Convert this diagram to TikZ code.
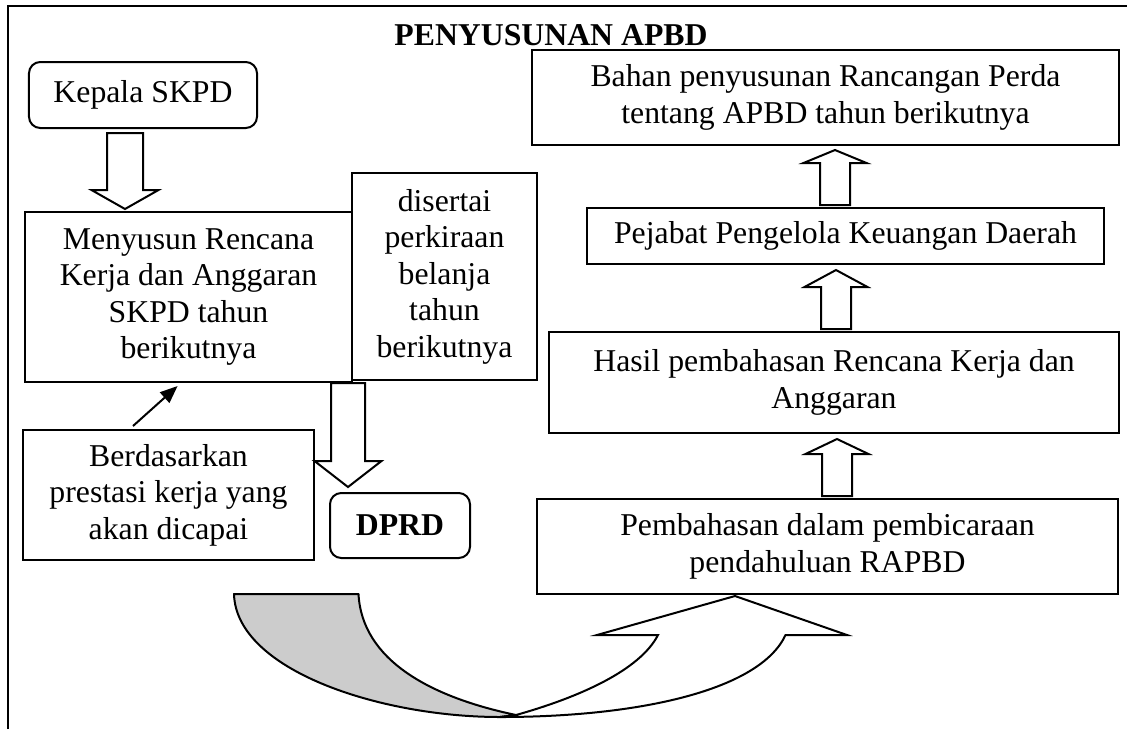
\documentclass[tikz,border=0pt]{standalone}
\usepackage{fontspec}
\setmainfont{Liberation Serif}
\usetikzlibrary{calc,arrows.meta}
\definecolor{tailgray}{HTML}{CCCCCC}
\newcommand\downarr[5]{%
  \draw[barrow] let \p1=(#1), \p2=(#2) in
   (\x1-#3,\y1) -- (\x1-#3,\y2+#5) -- (\x1-#4,\y2+#5) -- (\x1,\y2) -- (\x1+#4,\y2+#5) -- (\x1+#3,\y2+#5) -- (\x1+#3,\y1) -- cycle;}
\newcommand\uparr[5]{%
  \draw[barrow] let \p1=(#1), \p2=(#2) in
   (\x1-#3,\y1) -- (\x1-#3,\y2-#5) -- (\x1-#4,\y2-#5) -- (\x1,\y2) -- (\x1+#4,\y2-#5) -- (\x1+#3,\y2-#5) -- (\x1+#3,\y1) -- cycle;}
\begin{document}
\begin{tikzpicture}[x=0.4pt,y=-0.4pt,
  txt/.style={font=\fontsize{12.7}{14.6}\selectfont},
  rtxt/.style={font=\fontsize{12.7}{15}\selectfont},
  box/.style={txt,draw,line width=0.8pt,inner sep=0pt,align=center},
  rcol/.style={box,rtxt},
  rbox/.style={box,rounded corners=4.5pt},
  barrow/.style={draw,line width=0.8pt,fill=white,line join=miter},
]
\useasboundingbox (0,0) rectangle (1127,729);
\draw[line width=0.8pt] (8,729) -- (8,6) -- (1127,6);

\node[font=\bfseries\fontsize{12.7}{14.6}\selectfont] (title) at (551,35) {PENYUSUNAN APBD};

\node[rbox,minimum width=91.2pt,minimum height=26.4pt] (kepala) at (143,95) {Kepala SKPD};
\node[box,minimum width=130.8pt,minimum height=68pt] (menyusun) at (188.5,297) {Menyusun Rencana\\Kerja dan Anggaran\\SKPD tahun\\berikutnya};
\node[box,minimum width=74pt,minimum height=82.8pt] (disertai) at (444.5,276.5) {disertai\\perkiraan\\belanja\\tahun\\berikutnya};
\node[box,minimum width=116.4pt,minimum height=52pt] (berdasar) at (168.5,495) {Berdasarkan\\prestasi kerja yang\\akan dicapai};
\node[rbox,minimum width=56pt,minimum height=26pt,font=\bfseries\fontsize{12.7}{14.6}\selectfont] (dprd) at (400,525.5) {DPRD};

\node[rcol,minimum width=234.8pt,minimum height=38pt] (bahan) at (825.5,97.5) {Bahan penyusunan Rancangan Perda\\tentang APBD tahun berikutnya};
\node[rcol,minimum width=206.8pt,minimum height=22.4pt] (pejabat) at (845.5,236) {Pejabat Pengelola Keuangan Daerah};
\node[rcol,minimum width=228pt,minimum height=40.4pt] (hasil) at (834,382.5) {Hasil pembahasan Rencana Kerja dan\\Anggaran};
\node[rcol,minimum width=232.4pt,minimum height=38pt] (pembahasan) at (827.5,546.5) {Pembahasan dalam pembicaraan\\pendahuluan RAPBD};

% block arrows
\coordinate (a1s) at ($(kepala.south)+(-18,4)$);
\coordinate (a1t) at ($(menyusun.north)+(-63.5,-2)$);
\downarr{a1s}{a1t}{7.2pt}{13.4pt}{7.6pt}
\coordinate (a2s) at ($(menyusun.south east)+(-5,0)$);
\coordinate (a2t) at ($(dprd.north)+(-52.5,-5)$);
\downarr{a2s}{a2t}{6.8pt}{13.4pt}{10.4pt}

\coordinate (a3s) at ($(pejabat.north)+(-10.5,-2)$);
\coordinate (a3t) at ($(bahan.south)+(9.5,4)$);
\uparr{a3s}{a3t}{6pt}{12.6pt}{5.2pt}
\coordinate (a4s) at ($(hasil.north)+(2,-2)$);
\coordinate (a4t) at ($(pejabat.south)+(-9.5,5)$);
\uparr{a4s}{a4t}{6pt}{12.6pt}{6.8pt}
\coordinate (a5s) at ($(pembahasan.north)+(9.5,-2)$);
\coordinate (a5t) at ($(hasil.south)+(3,5)$);
\uparr{a5s}{a5t}{6pt}{12.6pt}{6pt}

% thin arrow
\draw[line width=0.8pt,-{Triangle[length=7pt,width=5.6pt]}] ($(berdasar.north west)+(111,-3)$) -- ($(menyusun.south west)+(153.6,3)$);

% curved arrow
\coordinate (ctip) at ($(pembahasan.south)+(-92.5,1)$);
\draw[line width=0.8pt,fill=tailgray,line join=round]
  (234,594) -- (358.5,594) .. controls (362,660) and (430,697) .. (516,715)
  -- (500,717) .. controls (380,717) and (236,670) .. (234,594) -- cycle;
\draw[line width=0.8pt,fill=white,line join=miter]
  (516,715) .. controls (580,697) and (640,670) .. (658,635) -- (597,635) -- (ctip) -- (847,635) -- (785.5,635)
  .. controls (760,690) and (640,717) .. (500,717) -- cycle;
\end{tikzpicture}
\end{document}
